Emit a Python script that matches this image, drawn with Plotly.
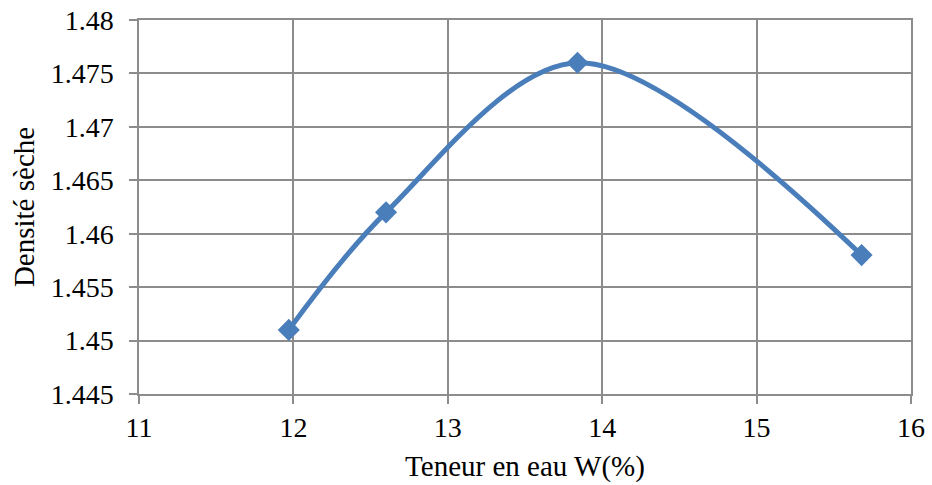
import plotly.graph_objects as go

teneur_eau = [11.97, 12.60, 13.84, 15.68]
densite_seche = [1.451, 1.462, 1.476, 1.458]

x_ticks = [11, 12, 13, 14, 15, 16]
y_ticks = [1.445, 1.45, 1.455, 1.46, 1.465, 1.47, 1.475, 1.48]
y_tick_text = ["1.445", "1.45", "1.455", "1.46", "1.465", "1.47", "1.475", "1.48"]

color = "#4a7ebb"
grid = "#8c8c8c"
font = "'Liberation Serif', 'Times New Roman', Times, serif"

fig = go.Figure()
fig.add_trace(go.Scatter(
    x=teneur_eau, y=densite_seche,
    mode="lines+markers",
    line=dict(color=color, width=5, shape="spline", smoothing=0.95),
    marker=dict(symbol="diamond", size=17, color=color),
    showlegend=False,
))

fig.update_layout(
    width=932, height=485,
    margin=dict(l=139, r=21, t=20, b=91, autoexpand=False),
    paper_bgcolor="white", plot_bgcolor="white",
    font=dict(family=font, size=28, color="black"),
    xaxis=dict(
        range=[11, 16], tickvals=x_ticks, ticktext=[str(v) for v in x_ticks],
        tickfont=dict(family=font, size=28, color="black"),
        showgrid=True, gridcolor=grid, gridwidth=1.5,
        showline=True, linecolor=grid, linewidth=1.5, mirror=True,
        ticks="outside", ticklen=8, tickcolor=grid, tickwidth=1.5,
        zeroline=False, automargin=False,
        title=dict(text="Teneur en eau W(%)", font=dict(family=font, size=29, color="black"), standoff=13),
    ),
    yaxis=dict(
        range=[1.445, 1.48], tickvals=y_ticks, ticktext=y_tick_text,
        tickfont=dict(family=font, size=28, color="black"),
        ticklabelstandoff=10,
        showgrid=True, gridcolor=grid, gridwidth=1.5,
        showline=True, linecolor=grid, linewidth=1.5, mirror=True,
        ticks="outside", ticklen=8, tickcolor=grid, tickwidth=1.5,
        zeroline=False, automargin=False,
        title=dict(text="Densité sèche", font=dict(family=font, size=29, color="black"), standoff=8),
    ),
)

fig.write_html("out.html")
